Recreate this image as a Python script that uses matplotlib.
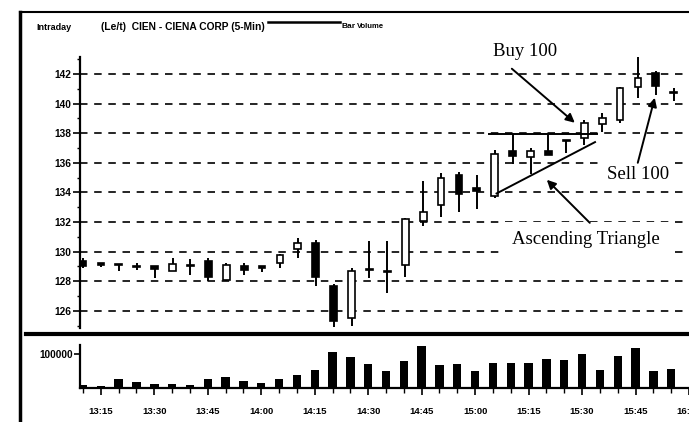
import matplotlib
matplotlib.use("Agg")
import matplotlib.pyplot as plt
from matplotlib.patches import Rectangle
from matplotlib.lines import Line2D
import numpy as np

# ---------------- data ----------------
opens  = [129.4, 129.2, 129.1, 128.95, 129.0, 128.7, 129.0, 129.4, 128.1, 129.0,
          129.0, 129.25, 130.15, 130.6, 127.7, 125.5, 128.75, 128.6, 129.1, 132.1,
          133.15, 135.2, 134.3, 133.75, 136.8, 136.4, 136.8, 137.5, 137.7, 138.6,
          138.9, 141.15, 142.05, 140.8]
highs  = [129.6, 129.25, 129.15, 129.25, 129.0, 129.55, 129.5, 129.6, 129.2, 129.2,
          129.0, 129.85, 130.95, 130.8, 127.8, 128.9, 130.75, 130.7, 132.3, 134.75,
          135.3, 135.35, 135.2, 136.9, 137.95, 137.0, 138.0, 137.55, 138.9, 139.35,
          141.1, 143.15, 142.2, 141.05]
lows   = [128.9, 128.95, 128.7, 128.75, 128.2, 128.7, 128.4, 128.0, 128.0, 128.4,
          128.6, 128.9, 129.6, 127.7, 124.9, 125.0, 128.2, 127.2, 128.3, 131.7,
          132.35, 132.7, 132.9, 133.6, 135.9, 135.25, 136.5, 136.65, 137.2, 138.05,
          138.7, 140.4, 140.6, 140.15]
closes = [129.0, 129.1, 129.1, 129.0, 128.8, 129.15, 129.05, 128.3, 129.1, 128.75,
          128.9, 129.8, 130.6, 128.3, 125.3, 128.7, 128.8, 128.65, 132.2, 132.7,
          134.95, 133.9, 134.1, 136.6, 136.45, 136.8, 136.55, 137.45, 138.7, 139.0,
          141.05, 141.7, 141.2, 140.7]
volumes = [10000, 5000, 27000, 17000, 12000, 13000, 10000, 27000, 32000, 21000,
           15000, 27000, 39000, 53000, 107000, 92000, 70000, 49000, 80000, 123000,
           67000, 70000, 49000, 73000, 73000, 75000, 85000, 82000, 101000, 52000,
           93000, 119000, 49000, 56000]
time_labels = ["13:15", "13:30", "13:45", "14:00", "14:15", "14:30", "14:45",
               "15:00", "15:15", "15:30", "15:45", "16:00"]
time_label_idx = [1, 4, 7, 10, 13, 16, 19, 22, 25, 28, 31, 34]
price_ticks = [126, 128, 130, 132, 134, 136, 138, 140, 142]
volume_ticks = [100000]

# triangle pattern (bar index, price)
tri_top = [(22.7, 137.95), (28.7, 137.95)]
tri_bottom = [(23.1, 133.93), (28.6, 137.4)]

# ---------------- layout ----------------
W, H = 689, 422
fig = plt.figure(figsize=(6.89, 4.22), dpi=100)
fig.patch.set_facecolor("white")

def fx(px):
    return px / W

def fy(py):
    return 1 - py / H

label_font = ["Liberation Sans Narrow", "Liberation Sans", "DejaVu Sans"]
serif_font = ["Liberation Serif", "DejaVu Serif"]

axp = fig.add_axes([fx(80), fy(328), fx(689) - fx(80), fy(57) - fy(328)])
axv = fig.add_axes([fx(80), fy(388), fx(689) - fx(80), fy(345) - fy(388)])

xlo, xhi = -0.17, 33.85
n = len(opens)
idx = np.arange(n)

# ---------------- price panel ----------------
axp.set_xlim(xlo, xhi)
axp.set_ylim(124.84, 143.15)
for p in price_ticks:
    axp.plot([xlo, xhi], [p, p], color="black", lw=1.2,
             linestyle=(0, (4.5, 4)), zorder=1)

bw = 0.38
for i in idx:
    o, h, l, c = opens[i], highs[i], lows[i], closes[i]
    axp.plot([i, i], [l, h], color="black", lw=1.4, zorder=2,
             solid_capstyle="butt")
    bottom = min(o, c)
    height = max(abs(c - o), 0.07)
    fc = "black" if c < o else "white"
    axp.add_patch(Rectangle((i - bw / 2, bottom), bw, height, facecolor=fc,
                            edgecolor="black", lw=1.2, zorder=3))

# triangle lines
axp.plot([tri_top[0][0], tri_top[1][0]], [tri_top[0][1], tri_top[1][1]],
         color="black", lw=1.4, zorder=4)
axp.plot([tri_bottom[0][0], tri_bottom[1][0]], [tri_bottom[0][1], tri_bottom[1][1]],
         color="black", lw=1.4, zorder=4)

# annotations
def px2data(px, py):
    return ((px - 83) / 17.91, 142 - (py - 74.3) / 14.79)

ap = dict(arrowstyle="-|>", color="black", lw=1.4, mutation_scale=13,
          shrinkA=0, shrinkB=0)
axp.annotate("", xy=px2data(575, 123), xytext=px2data(512, 69), arrowprops=ap,
             zorder=6)
axp.annotate("", xy=px2data(655, 98), xytext=px2data(638, 163), arrowprops=ap,
             zorder=6)
axp.annotate("", xy=px2data(547, 180), xytext=px2data(590, 223), arrowprops=ap,
             zorder=6)

axp.text(*px2data(525, 52), "Buy 100", ha="center", va="center",
         fontsize=13.5, family=serif_font, zorder=7, clip_on=False)
axp.text(*px2data(638, 175), "Sell 100", ha="center", va="center",
         fontsize=13.5, family=serif_font, zorder=5,
         bbox=dict(boxstyle="square,pad=0.3", fc="white", ec="none"))
axp.text(*px2data(586, 240), "Ascending Triangle", ha="center", va="center",
         fontsize=13.5, family=serif_font, zorder=5,
         bbox=dict(boxstyle="square,pad=0.5", fc="white", ec="none"))

for s in ["top", "right", "bottom"]:
    axp.spines[s].set_visible(False)
axp.spines["left"].set_linewidth(1.6)
axp.set_yticks(price_ticks)
axp.set_yticks([p + 1 for p in price_ticks[:-1]] + [125, 143], minor=True)
axp.set_yticklabels([str(p) for p in price_ticks], fontsize=7.3,
                    fontweight="bold", family=label_font)
axp.tick_params(axis="y", which="major", length=5, width=1.2, pad=1)
axp.tick_params(axis="y", which="minor", length=2.5, width=1.0)
axp.set_xticks([])

# ---------------- volume panel ----------------
axv.set_xlim(xlo, xhi)
axv.set_ylim(0, 126500)
axv.bar(idx, volumes, width=0.47, color="black", zorder=2)
for s in ["top", "right"]:
    axv.spines[s].set_visible(False)
axv.spines["left"].set_linewidth(1.6)
axv.spines["bottom"].set_linewidth(1.6)
axv.set_yticks(volume_ticks)
axv.set_yticklabels([str(v) for v in volume_ticks], fontsize=7.2,
                    fontweight="bold", family=label_font)
axv.tick_params(axis="y", length=4, width=1.2, pad=1)
axv.set_xticks(time_label_idx)
axv.set_xticks(idx, minor=True)
axv.set_xticklabels(time_labels, fontsize=6.8, fontweight="bold",
                    family=label_font)
axv.tick_params(axis="x", which="major", length=5, width=1.2, pad=9)
axv.tick_params(axis="x", which="minor", length=3.5, width=1.0)

# ---------------- frame & title ----------------
fig.add_artist(Line2D([fx(20), fx(20)], [fy(12), fy(422)], color="black", lw=2.5))
fig.add_artist(Line2D([fx(20), fx(689)], [fy(12), fy(12)], color="black", lw=1.5))
fig.add_artist(Line2D([fx(26), fx(689)], [fy(334), fy(334)], color="black", lw=3))
fig.add_artist(Line2D([fx(268), fx(340)], [fy(22), fy(22)], color="black", lw=1.8))

fig.text(fx(36), fy(27), "Intraday", fontsize=6.5, fontweight="bold",
         family=label_font, va="center", ha="left")
fig.text(fx(101), fy(27), "(Le/t)  CIEN - CIENA CORP (5-Min)", fontsize=7.4,
         fontweight="bold", family=label_font, va="center", ha="left")
fig.text(fx(341), fy(27), "Bar", fontsize=6.0, fontweight="bold",
         family=label_font, va="center", ha="left")
fig.text(fx(357), fy(27), "Volume", fontsize=5.5, fontweight="bold",
         family=label_font, va="center", ha="left")

fig.savefig("out.png", dpi=100, facecolor="white")
